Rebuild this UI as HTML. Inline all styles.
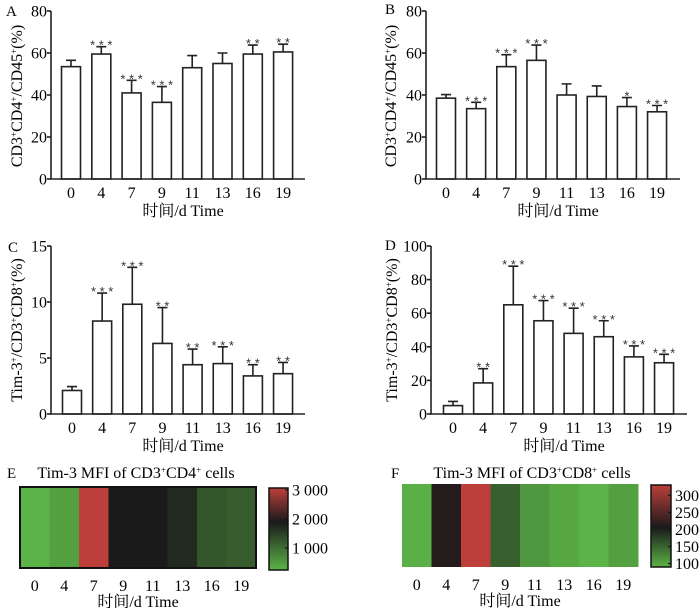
<!DOCTYPE html>
<html><head><meta charset="utf-8"><style>
html,body{margin:0;padding:0;background:#fff;}
svg{display:block;font-family:"Liberation Serif","Noto Serif CJK SC","Noto Sans CJK SC",serif;}
</style></head><body>
<svg id="fig" width="700" height="608" viewBox="0 0 700 608" xmlns="http://www.w3.org/2000/svg"></svg>
<script>
const days = ["0","4","7","9","11","13","16","19"];
const aMeans = [53.5,59.5,41,36.5,53,55,59.5,60.5];
const aErrs = [3,3.5,6,7.5,5.8,5,4.3,3.7];
const aStars = ["","***","***","***","","","**","**"];
const aTicks = [0,20,40,60,80];
const bMeans = [38.5,33.5,53.5,56.5,40,39.3,34.5,32];
const bErrs = [1.7,3,5.7,7.3,5.3,5,4.3,3];
const bStars = ["","***","***","***","","","*","***"];
const bTicks = [0,20,40,60,80];
const cMeans = [2.1,8.3,9.8,6.3,4.4,4.5,3.4,3.6];
const cErrs = [0.35,2.5,3.3,3.2,1.4,1.5,1.0,1.0];
const cStars = ["","***","***","**","**","***","**","**"];
const cTicks = [0,5,10,15];
const dMeans = [5,18.5,65,55.5,48,46,34,30.5];
const dErrs = [2.5,8.5,23,12,15,9.5,6.5,5];
const dStars = ["","**","***","***","***","***","***","***"];
const dTicks = [0,20,40,60,80,100];
const eValues = [250,440,3000,1900,1900,1730,1250,1185];
const eTicks = [1000,2000,3000];
const eTickLabels = ["1 000","2 000","3 000"];
const fValues = [95,212,320,154,112,101,92,106];
const fTicks = [100,150,200,250,300];
const fTickLabels = ["100","150","200","250","300"];

const NS="http://www.w3.org/2000/svg";
const svg=document.getElementById('fig');
function mk(tag,attrs,parent){const e=document.createElementNS(NS,tag);for(const k in attrs)e.setAttribute(k,attrs[k]);(parent||svg).appendChild(e);return e;}
function txt(s,attrs,parent){const e=mk('text',attrs,parent);e.textContent=s;return e;}

function barPanel(id,letter,lx,ly,ax,y0,yTop,yMax,x0c,step,axEnd,means,errs,stars,ticks,ytitle,tx,ty){
  const g=mk('g',{});
  
  
  const ys=v=>y0-(v/yMax)*(y0-yTop);
  const xs=i=>x0c+i*step;
  const pl=txt(letter,{x:lx,y:ly,'font-size':15},g);
  
  means.forEach((m,i)=>{
    const top=ys(m+errs[i]);
    const eb=mk('path',{d:`M${xs(i)} ${ys(m)}V${top}M${xs(i)-5} ${top}H${xs(i)+5}`,stroke:'#222','stroke-width':1.6,fill:'none'},g);
    
    const r=mk('rect',{x:xs(i)-9.5,y:ys(m),width:19,height:y0-ys(m),fill:'#fff',stroke:'#222','stroke-width':1.6},g);
    
    if(stars[i]){const s=txt(stars[i].split('').join(' '),{x:xs(i),y:top+3,'font-size':13,'text-anchor':'middle',fill:'#333','font-family':'Liberation Sans, sans-serif'},g);
      }
    const xl=txt(days[i],{x:xs(i),y:y0+19,'font-size':16,'text-anchor':'middle'},g);
    
  });
  const axis=mk('path',{d:`M${ax} ${yTop}V${y0}H${axEnd}`,stroke:'#222','stroke-width':1.6,fill:'none'},g);
  
  ticks.forEach(t=>{
    mk('line',{x1:ax-4,x2:ax,y1:ys(t),y2:ys(t),stroke:'#222','stroke-width':1.6},g);
    const tl=txt(String(t),{x:ax-4,y:ys(t)+5.5,'font-size':16,'text-anchor':'end'},g);
    
  });
  const xt=txt('时间/d  Time',{x:(ax+axEnd)/2+5,y:y0+37,'font-size':16,'text-anchor':'middle','xml:space':'preserve'},g);
  
  const yt=txt('',{x:0,y:0,'font-size':16,'text-anchor':'middle',transform:`translate(${tx},${ty}) rotate(-90)`},g);
  yt.innerHTML=ytitle;
  
}
const sup=s=>`<tspan baseline-shift="super" font-size="9">${s}</tspan>`;
const t1=`CD3${sup('+')}CD4${sup('+')}/CD45${sup('+')}(%)`;
const t2=`Tim-3${sup('+')}/CD3${sup('+')}CD8${sup('+')}(%)`;
barPanel('a','A',6,16,51,179,11,80,71,30.3,305,aMeans,aErrs,aStars,aTicks,t1,22,96);
barPanel('b','B',385,14,426,179,11,80,446,30.15,680,bMeans,bErrs,bStars,bTicks,t1,396,96);
barPanel('c','C',8,252,51,414,246,15,72,30.15,305,cMeans,cErrs,cStars,cTicks,t2,22,330);
barPanel('d','D',385,250,431,414,246,100,453,30.15,687,dMeans,dErrs,dStars,dTicks,t2,397,330);

function lerp(a,b,t){return a.map((v,i)=>Math.round(v+(b[i]-v)*t));}
const GREEN=[92,179,71],BLACK=[26,26,26],RED=[189,63,59];
function cscale(v,min,mid,max){
  let c;
  if(v<=mid)c=lerp(GREEN,BLACK,Math.max(0,(v-min)/(mid-min)));
  else c=lerp(BLACK,RED,Math.min(1,(v-mid)/(max-mid)));
  return `rgb(${c.join(',')})`;
}
function heat(id,letter,lx,title,tcx,x0,x1,yT,yB,values,min,mid,max,border,cbx,cbw,cbT,cbB,cbMin,cbMax,ticks,tickLabels,gid){
  const g=mk('g',{});
  
  
  const pl=txt(letter,{x:lx,y:478,'font-size':15},g);
  
  const tt=txt('',{x:tcx,y:478,'font-size':16,'text-anchor':'middle'},g);
  tt.innerHTML=title;
  
  const w=(x1-x0)/values.length;
  values.forEach((v,i)=>{
    const r=mk('rect',{x:x0+i*w,y:yT,width:w+0.5,height:yB-yT,fill:cscale(v,min,mid,max)},g);
    
    const xl=txt(days[i],{x:x0+i*w+w/2,y:yB+23,'font-size':16,'text-anchor':'middle'},g);
    
  });
  if(border)mk('rect',{x:x0,y:yT,width:x1-x0,height:yB-yT,fill:'none',stroke:'#111','stroke-width':2},g);
  const xt=txt('时间/d  Time',{x:(x0+x1)/2,y:yB+39,'font-size':16,'text-anchor':'middle','xml:space':'preserve'},g);
  
  const defs=mk('defs',{},g);
  const lg=mk('linearGradient',{id:gid,x1:0,y1:1,x2:0,y2:0},defs);
  const midOff=(mid-cbMin)/(cbMax-cbMin);
  mk('stop',{offset:0,'stop-color':cscale(cbMin,min,mid,max)},lg);
  mk('stop',{offset:midOff,'stop-color':'rgb(26,26,26)'},lg);
  mk('stop',{offset:1,'stop-color':cscale(cbMax,min,mid,max)},lg);
  const cb=mk('rect',{x:cbx,y:cbT,width:cbw,height:cbB-cbT,fill:`url(#${gid})`,stroke:'#111','stroke-width':1.5},g);
  
  const cy=v=>cbB-(v-cbMin)/(cbMax-cbMin)*(cbB-cbT);
  ticks.forEach((t,i)=>{
    mk('line',{x1:cbx+cbw-3,x2:cbx+cbw,y1:cy(t),y2:cy(t),stroke:'#111','stroke-width':1.2},g);
    const tl=txt(tickLabels[i],{x:cbx+cbw+4,y:cy(t)+5.5,'font-size':16},g);
    
  });
}
heat('e','E',7,`Tim-3 MFI of CD3${sup('+')}CD4${sup('+')} cells`,136,20,256,487,568,eValues,250,1900,3000,true,269,19,488,570,240,3070,eTicks,eTickLabels,'gE');
heat('f','F',391,`Tim-3 MFI of CD3${sup('+')}CD8${sup('+')} cells`,532,402,638,484,567,fValues,92,205,320,false,651,20,485,567,90,330,fTicks,fTickLabels,'gF');
</script>
</body></html>
